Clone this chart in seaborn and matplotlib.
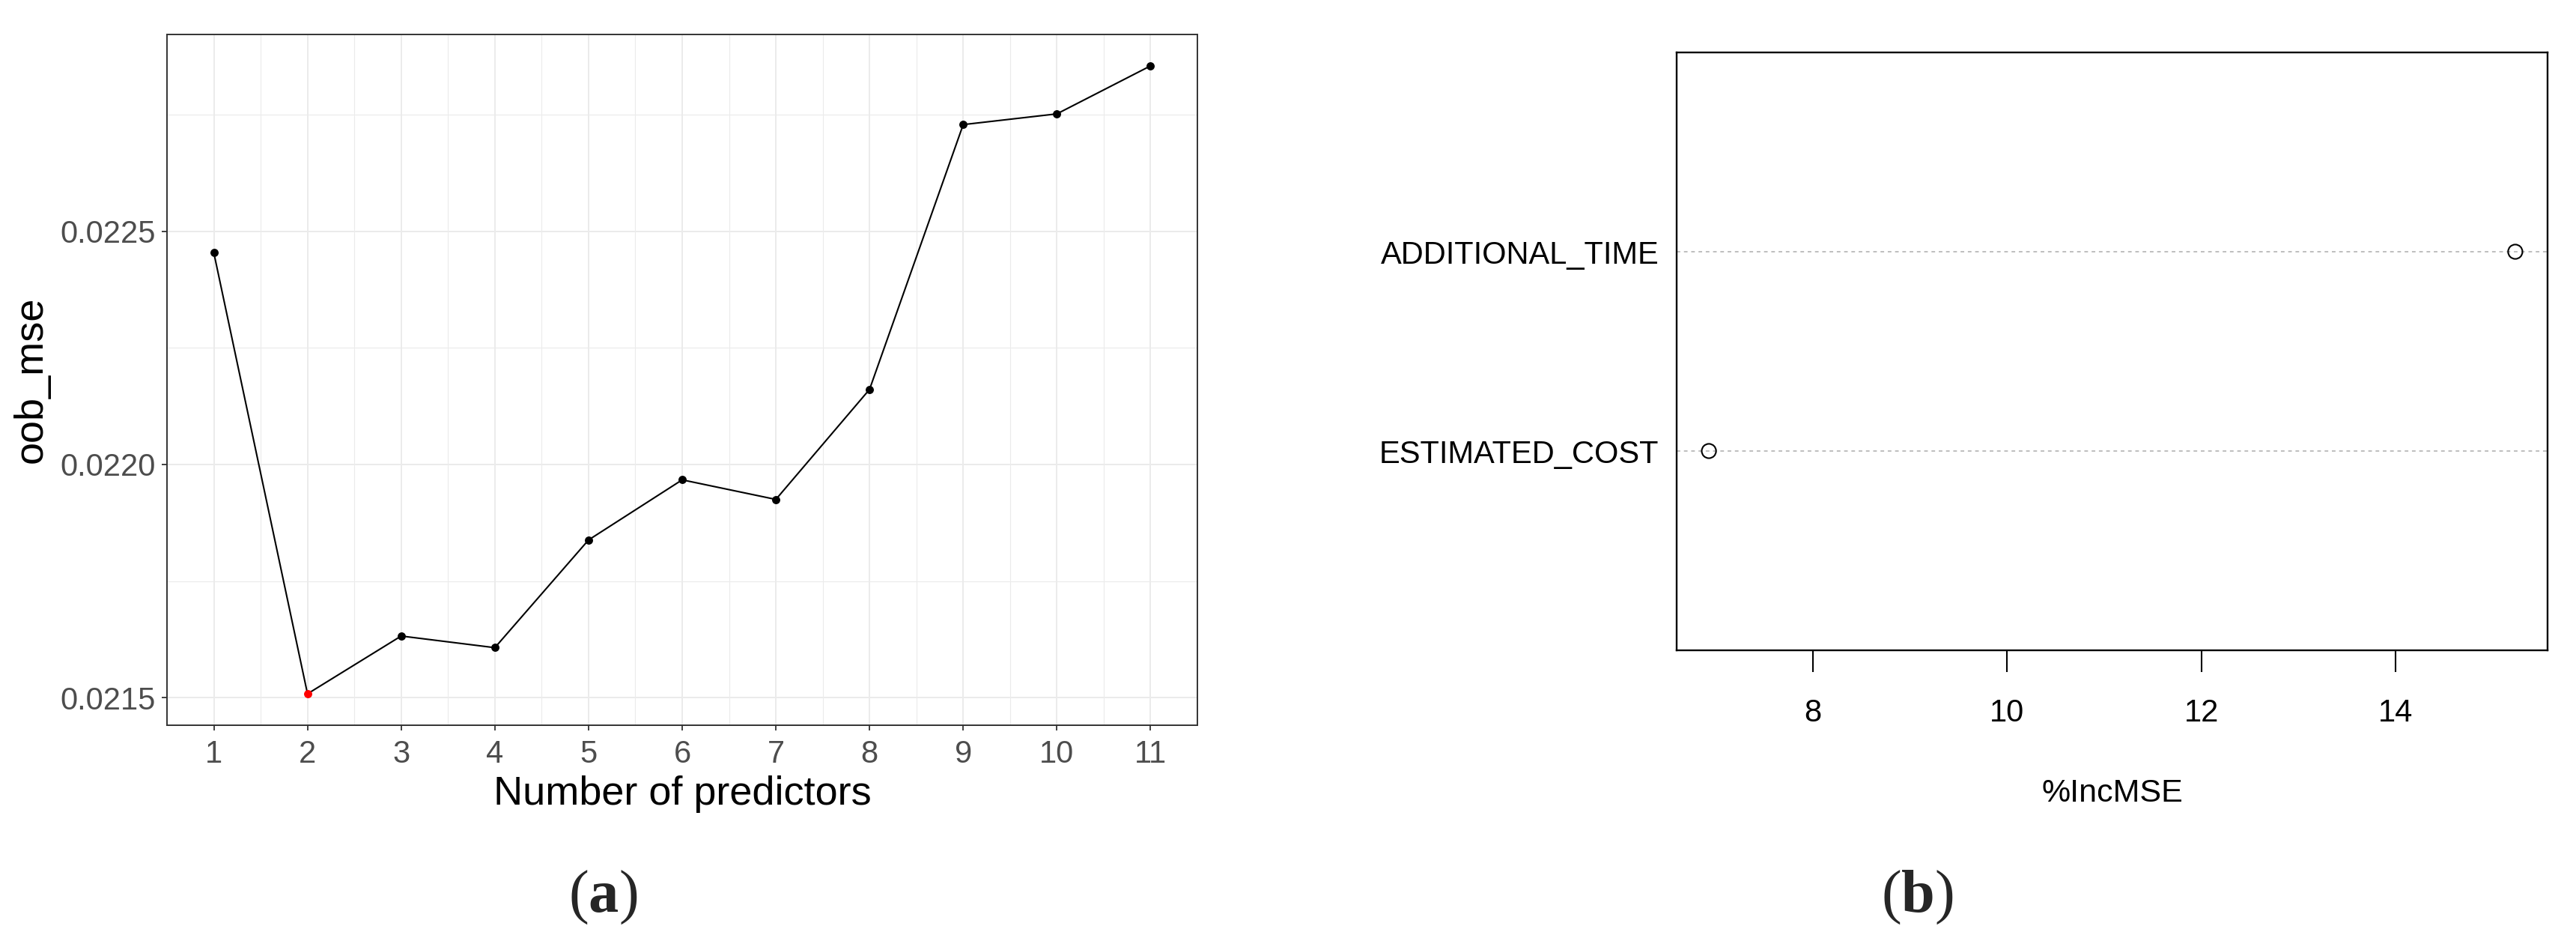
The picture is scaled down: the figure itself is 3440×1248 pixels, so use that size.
import matplotlib
matplotlib.use("Agg")
import matplotlib.pyplot as plt
from matplotlib.ticker import MultipleLocator, FixedLocator
import seaborn as sns
import pandas as pd
import numpy as np

# ---------------- data ----------------
n_predictors = [1, 2, 3, 4, 5, 6, 7, 8, 9, 10, 11]
oob_mse = [0.022454, 0.021508, 0.021632, 0.021607, 0.021838, 0.021967,
           0.021925, 0.022161, 0.022729, 0.022752, 0.022855]
best_n = 2
y_ticks_a = [0.0215, 0.0220, 0.0225]
x_ticks_a = n_predictors

variables = ["ESTIMATED_COST", "ADDITIONAL_TIME"]
inc_mse = [6.93, 15.23]
x_ticks_b = [8, 10, 12, 14]

caption_a = r"($\mathbf{a}$)"
caption_b = r"($\mathbf{b}$)"

# ---------------- style ----------------
sns.set_theme(style="white")
plt.rcParams['font.family'] = ['Liberation Sans', 'DejaVu Sans']
plt.rcParams['mathtext.fontset'] = 'custom'
plt.rcParams['mathtext.rm'] = 'Liberation Serif'
plt.rcParams['mathtext.bf'] = 'Liberation Serif:bold'

W, H = 3440, 1248
fig = plt.figure(figsize=(W / 100, H / 100), dpi=100)
fig.patch.set_facecolor("white")


def ax_rect(l, t, r, b):
    return [l / W, 1 - b / H, (r - l) / W, (b - t) / H]


# ---------------- panel (a) ----------------
ax1 = fig.add_axes(ax_rect(223, 46, 1599, 968))
df = pd.DataFrame({"n": n_predictors, "mse": oob_mse})
sns.lineplot(data=df, x="n", y="mse", color="black", lw=1.5, ax=ax1, zorder=3)
sns.scatterplot(data=df[df["n"] != best_n], x="n", y="mse", color="black",
                s=62, linewidth=0, ax=ax1, zorder=4)
sns.scatterplot(data=df[df["n"] == best_n], x="n", y="mse", color="red",
                s=62, linewidth=0, ax=ax1, zorder=5)

xr = max(n_predictors) - min(n_predictors)
ax1.set_xlim(min(n_predictors) - 0.05 * xr, max(n_predictors) + 0.05 * xr)
yr = max(oob_mse) - min(oob_mse)
ax1.set_ylim(min(oob_mse) - 0.05 * yr, max(oob_mse) + 0.05 * yr)

ax1.xaxis.set_major_locator(FixedLocator(x_ticks_a))
ax1.xaxis.set_minor_locator(MultipleLocator(0.5))
ax1.yaxis.set_major_locator(FixedLocator(y_ticks_a))
ax1.yaxis.set_minor_locator(MultipleLocator(0.00025))
ax1.set_yticklabels([f"{v:.4f}" for v in y_ticks_a])
ax1.set_xticklabels([str(v) for v in x_ticks_a])

ax1.grid(which="major", color="#EBEBEB", lw=1.4)
ax1.grid(which="minor", color="#EBEBEB", lw=0.8)
ax1.set_axisbelow(True)
for s in ax1.spines.values():
    s.set_color("#333333")
    s.set_linewidth(1.4)
ax1.tick_params(which="major", length=5, width=1.3, color="#333333",
                labelsize=30, labelcolor="#4D4D4D",
                bottom=True, left=True)
ax1.tick_params(axis="x", which="major", pad=9)
ax1.tick_params(axis="y", which="major", pad=6)
ax1.tick_params(which="minor", length=0)

ax1.set_xlabel("Number of predictors", fontsize=39, color="black")
ax1.set_ylabel("oob_mse", fontsize=39, color="black")
ax1.xaxis.set_label_coords(0.5, -(1060 - 968) / 922)
ax1.xaxis.label.set_va("center")
ax1.yaxis.set_label_coords((42 - 223) / 1376, 0.5)
ax1.yaxis.label.set_va("center")

# ---------------- panel (b) ----------------
ax2 = fig.add_axes(ax_rect(2239, 70, 3402, 868))
df2 = pd.DataFrame({"var": variables, "val": inc_mse,
                    "pos": list(range(1, len(variables) + 1))})
sns.scatterplot(data=df2, x="val", y="pos", marker="o", s=190,
                color="black", edgecolor="black", linewidth=1.5,
                ax=ax2, zorder=4)
for coll in ax2.collections:
    coll.set_facecolor("none")

xr2 = max(inc_mse) - min(inc_mse)
ax2.set_xlim(min(inc_mse) - 0.04 * xr2, max(inc_mse) + 0.04 * xr2)
ax2.set_ylim(0, len(variables) + 1)
ax2.set_yticks(df2["pos"])
ax2.set_yticklabels(variables)
ax2.set_xticks(x_ticks_b)
ax2.set_xticklabels([str(v) for v in x_ticks_b])

ax2.grid(axis="y", color="#BEBEBE", lw=1.4, linestyle=(0, (2.5, 2.5)))
ax2.grid(axis="x", visible=False)
ax2.set_axisbelow(True)
for s in ax2.spines.values():
    s.set_color("black")
    s.set_linewidth(1.7)
ax2.tick_params(axis="y", length=0, pad=17, labelsize=30, labelcolor="black")
ax2.tick_params(axis="x", length=21, width=1.5, color="black", pad=25,
                labelsize=30, labelcolor="black", bottom=True)

ax2.set_xlabel("%IncMSE", fontsize=31, color="black")
ax2.set_ylabel("")
ax2.xaxis.set_label_coords(0.5, -(1059 - 868) / 798)
ax2.xaxis.label.set_va("center")

# ---------------- captions ----------------
fig.text(805 / W, 1 - 1198 / H, caption_a, fontsize=58,
         family="Liberation Serif", ha="center", va="center")
fig.text(2560 / W, 1 - 1198 / H, caption_b, fontsize=58,
         family="Liberation Serif", ha="center", va="center")

fig.savefig("out.png", dpi=100, facecolor="white")
